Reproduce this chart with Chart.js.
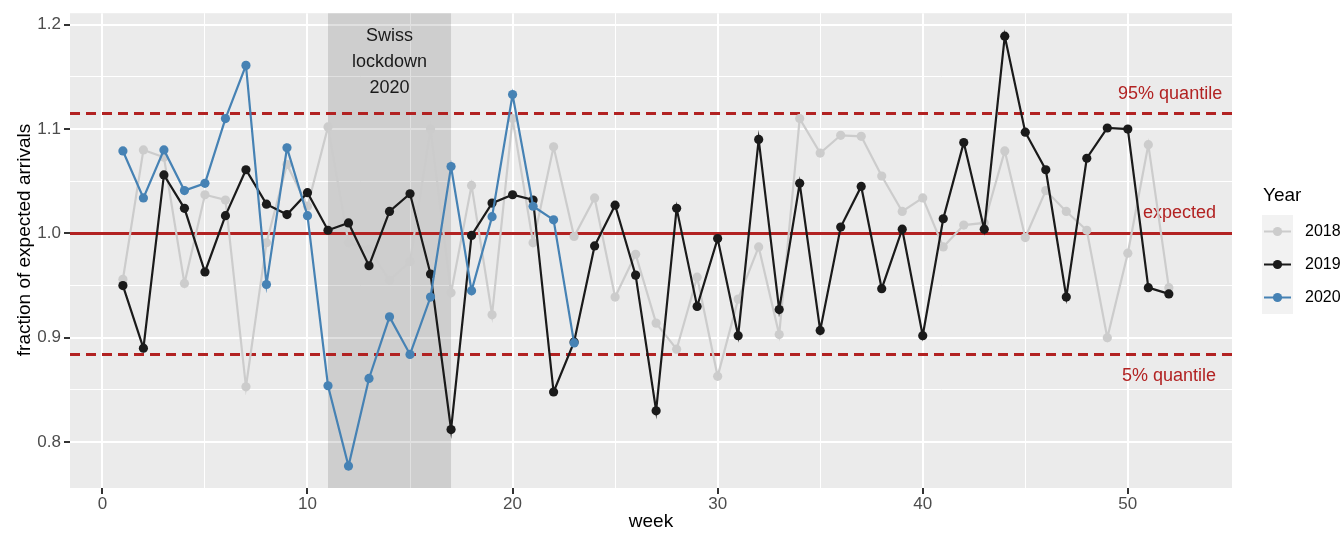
<!DOCTYPE html>
<html>
<head>
<meta charset="utf-8">
<script src="https://cdn.jsdelivr.net/npm/chart.js@4/dist/chart.umd.min.js"></script>
<style>
  body { margin: 0; background: #fff; }
  #wrap { width: 1344px; height: 535px; }
</style>
</head>
<body>
<div id="wrap"><canvas id="arrivals" width="1344" height="535"></canvas></div>
<script>
// week numbers
var weeks = [1,2,3,4,5,6,7,8,9,10,11,12,13,14,15,16,17,18,19,20,21,22,23,24,25,26,
  27,28,29,30,31,32,33,34,35,36,37,38,39,40,41,42,43,44,45,46,47,48,49,50,51,52];

// fraction of expected arrivals, per year
var y2018 = [0.956,1.080,1.073,0.952,1.037,1.032,0.853,0.991,1.066,1.026,1.102,0.991,0.985,
  0.955,0.973,1.100,0.943,1.046,0.922,1.110,0.991,1.083,0.997,1.034,0.939,0.980,0.914,0.889,
  0.958,0.863,0.937,0.987,0.903,1.110,1.077,1.094,1.093,1.055,1.021,1.034,0.987,1.008,1.010,
  1.079,0.996,1.041,1.021,1.003,0.900,0.981,1.085,0.948];
var y2019 = [0.950,0.890,1.056,1.024,0.963,1.017,1.061,1.028,1.018,1.039,1.003,1.010,0.969,
  1.021,1.038,0.961,0.812,0.998,1.029,1.037,1.032,0.848,0.896,0.988,1.027,0.960,0.830,1.024,
  0.930,0.995,0.902,1.090,0.927,1.048,0.907,1.006,1.045,0.947,1.004,0.902,1.014,1.087,1.004,
  1.189,1.097,1.061,0.939,1.072,1.101,1.100,0.948,0.942];
var y2020 = [1.079,1.034,1.080,1.041,1.048,1.110,1.161,0.951,1.082,1.017,0.854,0.777,0.861,
  0.920,0.884,0.939,1.064,0.945,1.016,1.133,1.026,1.013,0.895];

var years = ['2018', '2019', '2020'];
var yearColors = ['#cccccc', '#1a1a1a', '#4682b4'];

// reference lines and lockdown period
var expected = 1.0;
var q95 = 1.115;
var q05 = 0.884;
var lockdown = [11, 17];
var lockdownText = ['Swiss', 'lockdown', '2020'];

// axis ticks
var xTicks = [0, 10, 20, 30, 40, 50];
var yTicks = [0.8, 0.9, 1.0, 1.1, 1.2];

var FONT = '"Liberation Sans", Arial, Helvetica, sans-serif';
var RED = '#b22222';

function toPoints(vals) {
  return vals.map(function(v, i) { return {x: weeks[i], y: v}; });
}

// minor breaks half way between majors
function withMinors(ticks) {
  var out = [];
  for (var i = 0; i < ticks.length; i++) {
    out.push({value: ticks[i], major: true});
    if (i < ticks.length - 1) out.push({value: (ticks[i] + ticks[i + 1]) / 2, major: false});
  }
  return out;
}

const panelPlugin = {
  id: 'panel',
  beforeDraw(chart) {
    const {ctx, chartArea: {left, right, top, bottom}} = chart;
    ctx.save();
    ctx.fillStyle = '#ebebeb';
    ctx.fillRect(left, top, right - left, bottom - top);
    ctx.restore();
  },
  beforeDatasetsDraw(chart) {
    const {ctx, chartArea: {left, right, top, bottom}, scales: {x, y}} = chart;
    ctx.save();
    // lockdown shading
    var x0 = x.getPixelForValue(lockdown[0]);
    var x1 = x.getPixelForValue(lockdown[1]);
    ctx.fillStyle = 'rgba(0,0,0,0.12)';
    ctx.fillRect(x0, top, x1 - x0, bottom - top);

    ctx.fillStyle = '#1a1a1a';
    ctx.font = '18px ' + FONT;
    ctx.textAlign = 'center';
    ctx.textBaseline = 'middle';
    var xm = (x0 + x1) / 2;
    lockdownText.forEach(function(t, i) {
      ctx.fillText(t, xm, top + 23 + i * 26);
    });

    // reference lines
    ctx.strokeStyle = RED;
    ctx.lineWidth = 3;
    var ye = y.getPixelForValue(expected);
    ctx.beginPath();
    ctx.moveTo(left, ye);
    ctx.lineTo(right, ye);
    ctx.stroke();

    ctx.setLineDash([10, 6]);
    [q95, q05].forEach(function(q) {
      var yq = y.getPixelForValue(q);
      ctx.beginPath();
      ctx.moveTo(left, yq);
      ctx.lineTo(right, yq);
      ctx.stroke();
    });
    ctx.setLineDash([]);

    // labels for the lines
    ctx.fillStyle = RED;
    ctx.font = '18px ' + FONT;
    ctx.textAlign = 'right';
    ctx.fillText('95% quantile', x.getPixelForValue(54.6), y.getPixelForValue(q95) - 19);
    ctx.fillText('expected', x.getPixelForValue(54.3), ye - 20);
    ctx.fillText('5% quantile', x.getPixelForValue(54.3), y.getPixelForValue(q05) + 22);
    ctx.restore();
  },
  afterDraw(chart) {
    const {ctx, chartArea: {left, right}} = chart;
    ctx.save();
    // axis titles
    ctx.fillStyle = '#000';
    ctx.font = '19px ' + FONT;
    ctx.textAlign = 'center';
    ctx.textBaseline = 'middle';
    ctx.fillText('week', (left + right) / 2, 522);
    ctx.translate(25, 240);
    ctx.rotate(-Math.PI / 2);
    ctx.fillText('fraction of expected arrivals', 0, 0);
    ctx.restore();

    // legend
    ctx.save();
    ctx.textBaseline = 'middle';
    ctx.textAlign = 'left';
    ctx.fillStyle = '#000';
    ctx.font = '19px ' + FONT;
    ctx.fillText('Year', 1263, 196);
    ctx.font = '16px ' + FONT;
    years.forEach(function(yr, i) {
      var top = 215 + i * 33;
      var cy = top + 16.5;
      ctx.fillStyle = '#f2f2f2';
      ctx.fillRect(1262, top, 31, 33);
      ctx.strokeStyle = yearColors[i];
      ctx.lineWidth = 2;
      ctx.beginPath();
      ctx.moveTo(1264, cy);
      ctx.lineTo(1291, cy);
      ctx.stroke();
      ctx.fillStyle = yearColors[i];
      ctx.beginPath();
      ctx.arc(1277.5, cy, 4.6, 0, Math.PI * 2);
      ctx.fill();
      ctx.fillStyle = '#000';
      ctx.fillText(yr, 1305, cy);
    });
    ctx.restore();
  }
};

function lineSet(label, vals, color, order) {
  return {
    label: label,
    data: toPoints(vals),
    borderColor: color,
    backgroundColor: color,
    borderWidth: 2.2,
    pointRadius: 4.6,
    pointBorderWidth: 0,
    pointBackgroundColor: color,
    tension: 0,
    order: order
  };
}

const data = {
  datasets: [
    lineSet('2018', y2018, yearColors[0], 2),
    lineSet('2019', y2019, yearColors[1], 1),
    lineSet('2020', y2020, yearColors[2], 0)
  ]
};

const gridOpts = {
  color: '#ffffff',
  lineWidth: (c) => c.tick && c.tick.major ? 2 : 1,
  tickColor: (c) => c.tick && c.tick.major ? '#333333' : 'rgba(0,0,0,0)',
  tickWidth: 2,
  tickLength: 6,
  drawOnChartArea: true
};

const config = {
  type: 'line',
  data: data,
  plugins: [panelPlugin],
  options: {
    responsive: false,
    animation: false,
    events: [],
    layout: { padding: { top: 10, right: 112, left: 0, bottom: 0 } },
    plugins: {
      legend: { display: false },
      tooltip: { enabled: false }
    },
    scales: {
      x: {
        type: 'linear',
        min: -1.58,
        max: 55.08,
        border: { display: false },
        grid: gridOpts,
        afterBuildTicks: (scale) => { scale.ticks = withMinors(xTicks); },
        afterFit: (scale) => { scale.height = 47; },
        ticks: {
          autoSkip: false,
          maxRotation: 0,
          padding: 0,
          color: '#4d4d4d',
          font: { family: FONT, size: 17 },
          callback: function(v, i, ticks) { return ticks[i].major ? String(v) : ''; }
        }
      },
      y: {
        type: 'linear',
        min: 0.756,
        max: 1.211,
        border: { display: false },
        grid: gridOpts,
        afterBuildTicks: (scale) => { scale.ticks = withMinors(yTicks); },
        afterFit: (scale) => { scale.width = 70; },
        ticks: {
          autoSkip: false,
          padding: 3,
          color: '#4d4d4d',
          font: { family: FONT, size: 17 },
          callback: function(v, i, ticks) { return ticks[i].major ? v.toFixed(1) : ''; }
        }
      }
    }
  }
};

const arrivalsChart = new Chart(document.getElementById('arrivals'), config);
</script>
</body>
</html>
